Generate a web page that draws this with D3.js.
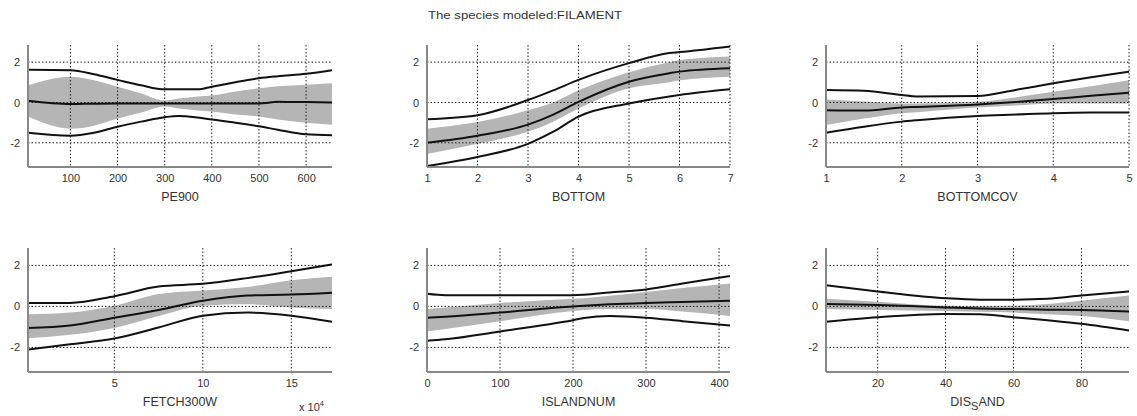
<!DOCTYPE html>
<html>
<head>
<meta charset="utf-8">
<script src="https://cdn.jsdelivr.net/npm/d3@7"></script>
<style>
  body { margin: 0; background: #fff; }
  svg { display: block; font-family: "Liberation Sans", Arial, sans-serif; }
</style>
</head>
<body>
<div id="chart"></div>
<script>
// values, per panel: x knots, centre line, outer black bounds, gray band edges
const yTicks = [-2, 0, 2];

const pe900X     = [10, 100, 150, 200, 250, 300, 330, 370, 400, 450, 500, 540, 600, 655];
const pe900Mean  = [0.08, -0.08, -0.06, -0.05, -0.05, -0.05, -0.05, -0.05, -0.05, -0.05, -0.05, 0.03, 0.02, 0.0];
const pe900Up    = [1.62, 1.6, 1.4, 1.12, 0.85, 0.65, 0.65, 0.65, 0.78, 1.0, 1.2, 1.3, 1.42, 1.6];
const pe900Lo    = [-1.5, -1.65, -1.5, -1.2, -0.95, -0.73, -0.67, -0.75, -0.85, -1.0, -1.18, -1.35, -1.58, -1.62];
const pe900BandHi = [0.85, 1.28, 1.1, 0.78, 0.45, 0.1, 0.2, 0.3, 0.35, 0.55, 0.7, 0.8, 0.88, 0.95];
const pe900BandLo = [-0.7, -1.3, -1.15, -0.8, -0.5, -0.2, -0.3, -0.4, -0.45, -0.6, -0.7, -0.85, -1.0, -1.1];
const pe900Ticks = [100, 200, 300, 400, 500, 600];

const bottomX      = [1, 2, 3, 3.5, 4, 5, 5.8, 6, 7];
const bottomMean   = [-2.0, -1.65, -1.1, -0.6, 0.03, 1.03, 1.45, 1.53, 1.7];
const bottomUp     = [-0.83, -0.63, 0.12, 0.6, 1.12, 1.95, 2.45, 2.5, 2.78];
const bottomLo     = [-3.15, -2.7, -2.05, -1.45, -0.7, -0.05, 0.3, 0.37, 0.65];
const bottomBandHi = [-1.3, -0.97, -0.38, 0.0, 0.6, 1.5, 2.0, 2.1, 2.28];
const bottomBandLo = [-2.55, -2.05, -1.45, -0.95, -0.3, 0.7, 1.0, 1.1, 1.28];
const bottomTicks  = [1, 2, 3, 4, 5, 6, 7];

const bcovX      = [1, 1.5, 2, 2.2, 3, 3.5, 4, 4.5, 5];
const bcovMean   = [-0.38, -0.4, -0.25, -0.22, -0.1, 0.02, 0.17, 0.33, 0.48];
const bcovUp     = [0.62, 0.58, 0.37, 0.3, 0.32, 0.62, 0.95, 1.25, 1.53];
const bcovLo     = [-1.5, -1.2, -0.95, -0.88, -0.67, -0.6, -0.53, -0.5, -0.5];
const bcovBandHi = [0.15, 0.05, -0.05, -0.05, 0.03, 0.25, 0.53, 0.8, 1.1];
const bcovBandLo = [-1.12, -0.8, -0.53, -0.48, -0.25, -0.15, -0.05, -0.05, -0.05];
const bcovTicks  = [1, 2, 3, 4, 5];

const fetchX      = [0.12, 2.5, 5, 7.5, 10, 12.5, 15, 17.3];
const fetchMean   = [-1.05, -0.93, -0.55, -0.17, 0.28, 0.53, 0.58, 0.67];
const fetchUp     = [0.17, 0.17, 0.5, 0.97, 1.1, 1.38, 1.72, 2.05];
const fetchLo     = [-2.1, -1.85, -1.57, -1.03, -0.45, -0.3, -0.45, -0.75];
const fetchBandHi = [-0.38, -0.3, 0.03, 0.6, 0.78, 0.95, 1.28, 1.45];
const fetchBandLo = [-1.55, -1.38, -1.05, -0.47, 0.03, 0.1, -0.05, -0.13];
const fetchTicks  = [5, 10, 15];

const islandX      = [0, 25, 100, 200, 215, 250, 300, 350, 415];
const islandMean   = [-0.55, -0.5, -0.3, 0.0, 0.03, 0.1, 0.17, 0.22, 0.28];
const islandUp     = [0.62, 0.55, 0.55, 0.55, 0.57, 0.68, 0.83, 1.12, 1.48];
const islandLo     = [-1.67, -1.6, -1.22, -0.67, -0.57, -0.47, -0.55, -0.72, -0.93];
const islandBandHi = [-0.13, -0.05, 0.17, 0.37, 0.4, 0.52, 0.7, 0.9, 1.12];
const islandBandLo = [-1.22, -1.1, -0.72, -0.22, -0.18, -0.13, -0.13, -0.25, -0.47];
const islandTicks  = [0, 100, 200, 300, 400];

const sandX      = [4.8, 20, 40, 50, 60, 70, 80, 94];
const sandMean   = [0.12, 0.07, -0.05, -0.1, -0.13, -0.16, -0.18, -0.25];
const sandUp     = [1.03, 0.73, 0.4, 0.33, 0.33, 0.37, 0.53, 0.73];
const sandLo     = [-0.75, -0.53, -0.37, -0.38, -0.53, -0.68, -0.85, -1.18];
const sandBandHi = [0.37, 0.23, 0.03, 0.02, 0.03, 0.12, 0.28, 0.53];
const sandBandLo = [-0.13, -0.18, -0.22, -0.26, -0.3, -0.38, -0.47, -0.72];
const sandTicks  = [20, 40, 60, 80];

const panels = [
  { label: "PE900", xs: pe900X, mean: pe900Mean, up: pe900Up, lo: pe900Lo, bhi: pe900BandHi, blo: pe900BandLo, ticks: pe900Ticks, dom: [10, 655], box: [28, 332, 45, 167] },
  { label: "BOTTOM", xs: bottomX, mean: bottomMean, up: bottomUp, lo: bottomLo, bhi: bottomBandHi, blo: bottomBandLo, ticks: bottomTicks, dom: [1, 7], box: [427, 730, 45, 167] },
  { label: "BOTTOMCOV", xs: bcovX, mean: bcovMean, up: bcovUp, lo: bcovLo, bhi: bcovBandHi, blo: bcovBandLo, ticks: bcovTicks, dom: [1, 5], box: [826, 1129, 45, 167] },
  { label: "FETCH300W", xs: fetchX, mean: fetchMean, up: fetchUp, lo: fetchLo, bhi: fetchBandHi, blo: fetchBandLo, ticks: fetchTicks, dom: [0.12, 17.3], box: [28, 332, 248, 372] },
  { label: "ISLANDNUM", xs: islandX, mean: islandMean, up: islandUp, lo: islandLo, bhi: islandBandHi, blo: islandBandLo, ticks: islandTicks, dom: [0, 415], box: [427, 730, 248, 372] },
  { label: "DIS_SAND", xs: sandX, mean: sandMean, up: sandUp, lo: sandLo, bhi: sandBandHi, blo: sandBandLo, ticks: sandTicks, dom: [4.8, 94], box: [826, 1129, 248, 372] }
];

const svg = d3.select("#chart").append("svg")
  .attr("width", 1137)
  .attr("height", 416);

svg.append("text")
  .attr("x", 428).attr("y", 19)
  .attr("font-size", 11)
  .attr("fill", "#333")
  .attr("textLength", 194)
  .attr("lengthAdjust", "spacingAndGlyphs")
  .text("The species modeled:FILAMENT");

const fmt = d => String(d);

panels.forEach(p => {
  const [x0, x1, y0, y1] = p.box;
  const x = d3.scaleLinear().domain(p.dom).range([x0, x1]);
  const y = d3.scaleLinear().domain([-3.2, 2.85]).range([y1, y0]);
  const g = svg.append("g");

  // gray band of the bootstrap curves
  const area = d3.area()
    .x((d, i) => x(p.xs[i]))
    .y0((d, i) => y(p.blo[i]))
    .y1((d, i) => y(p.bhi[i]))
    .curve(d3.curveMonotoneX);
  g.append("path").datum(p.xs).attr("d", area).attr("fill", "#b5b5b5");

  // dotted grid
  g.selectAll(".gx").data(p.ticks).enter().append("line")
    .attr("x1", d => x(d)).attr("x2", d => x(d))
    .attr("y1", y0).attr("y2", y1)
    .attr("stroke", "#222").attr("stroke-width", 1).attr("stroke-dasharray", "1.5,2");
  g.selectAll(".gy").data(yTicks).enter().append("line")
    .attr("x1", x0).attr("x2", x1)
    .attr("y1", d => y(d)).attr("y2", d => y(d))
    .attr("stroke", "#222").attr("stroke-width", 1).attr("stroke-dasharray", "1.5,2");

  // black curves
  [p.up, p.mean, p.lo].forEach(vals => {
    const line = d3.line()
      .x((d, i) => x(p.xs[i]))
      .y(d => y(d))
      .curve(d3.curveMonotoneX);
    g.append("path").datum(vals).attr("d", line)
      .attr("fill", "none").attr("stroke", "#111").attr("stroke-width", 2);
  });

  // axes
  const ax = g.append("g").attr("transform", `translate(0,${y1})`)
    .call(d3.axisBottom(x).tickValues(p.ticks).tickSize(0).tickPadding(7).tickFormat(fmt));
  ax.select(".domain").attr("stroke", "#888").attr("stroke-width", 2).attr("d", `M${x0},0H${x1}`);
  ax.selectAll("text").attr("font-size", 11).attr("fill", "#333").attr("font-family", "Liberation Sans, Arial, sans-serif");

  const ay = g.append("g").attr("transform", `translate(${x0},0)`)
    .call(d3.axisLeft(y).tickValues(yTicks).tickSize(0).tickPadding(8).tickFormat(fmt));
  ay.select(".domain").attr("stroke", "#888").attr("stroke-width", 2).attr("d", `M0,${y0}V${y1}`);
  ay.selectAll("text").attr("font-size", 11).attr("fill", "#333").attr("font-family", "Liberation Sans, Arial, sans-serif");

  // x label
  const lbl = g.append("text")
    .attr("x", (x0 + x1) / 2).attr("y", y1 + 34)
    .attr("text-anchor", "middle").attr("font-size", 12.5).attr("fill", "#333");
  if (p.label === "DIS_SAND") {
    lbl.append("tspan").text("DIS");
    lbl.append("tspan").attr("dy", 4).attr("font-size", 11).text("S");
    lbl.append("tspan").attr("dy", -4).text("AND");
  } else {
    lbl.text(p.label);
  }
});

// exponent of the FETCH300W axis
const ex = svg.append("text").attr("x", 299).attr("y", 411).attr("font-size", 11).attr("fill", "#333");
ex.append("tspan").text("x 10");
ex.append("tspan").attr("dy", -5).attr("font-size", 7.5).text("4");
</script>
</body>
</html>
